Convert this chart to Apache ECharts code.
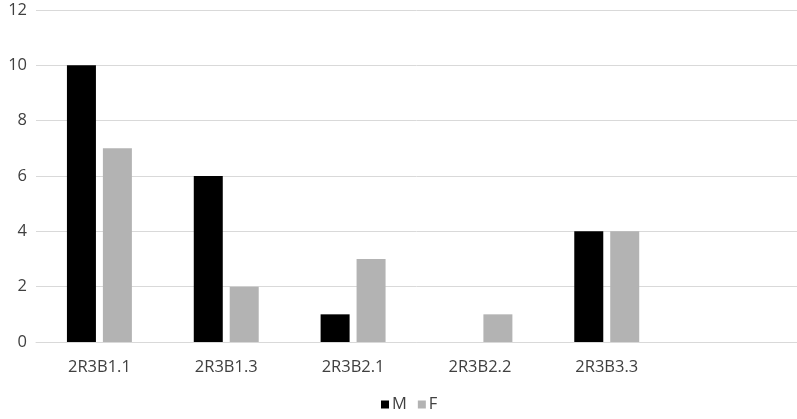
<html>
<head>
    <meta charset="utf-8">
    <title>M / F</title>
    <script src="https://cdn.jsdelivr.net/npm/echarts@6/dist/echarts.min.js"></script>
    <style>
        body { margin: 0; background: #fff; }
    </style>
</head>
<body>
    <div id="main" style="width: 797px;height:419px"></div>
    <script>
        // categories (last one is an empty slot, as in the original)
        var categories = ['2R3B1.1', '2R3B1.3', '2R3B2.1', '2R3B2.2', '2R3B3.3', ''];
        var mValues = [10, 6, 1, 0, 4, '-'];
        var fValues = [7, 2, 3, 1, 4, '-'];
        var yTicks = [0, 2, 4, 6, 8, 10, 12];

        var myChart = echarts.init(document.getElementById('main'));

        var font = 'Open Sans';
        var txtColor = '#404040';
        var fs = 16.5;

        option = {
            animation: false,
            grid: { left: 36, right: -1, top: 10, bottom: 77 },
            legend: {
                bottom: 1,
                left: 376,
                itemWidth: 8,
                itemHeight: 8,
                itemGap: 11,
                icon: 'rect',
                textStyle: { fontFamily: font, fontSize: fs, color: txtColor, padding: [0, 0, 0, -2] },
                data: ['M', 'F']
            },
            xAxis: {
                type: 'category',
                data: categories,
                axisLine: { lineStyle: { color: '#d9d9d9', width: 1 } },
                axisTick: { show: false },
                axisLabel: { fontFamily: font, fontSize: fs, color: txtColor, margin: 17 }
            },
            yAxis: {
                type: 'value',
                min: yTicks[0],
                max: yTicks[yTicks.length - 1],
                interval: 2,
                axisLine: { show: false },
                axisTick: { show: false },
                splitLine: { lineStyle: { color: '#d9d9d9', width: 1 } },
                axisLabel: { fontFamily: font, fontSize: fs, color: txtColor, margin: 9 }
            },
            series: [
                {
                    name: 'M',
                    type: 'bar',
                    data: mValues,
                    barWidth: 29,
                    barGap: '24%',
                    itemStyle: { color: '#000000' }
                },
                {
                    name: 'F',
                    type: 'bar',
                    data: fValues,
                    barWidth: 29,
                    itemStyle: { color: '#b3b3b3' }
                }
            ]
        };
        myChart.setOption(option);
    </script>
</body>
</html>
